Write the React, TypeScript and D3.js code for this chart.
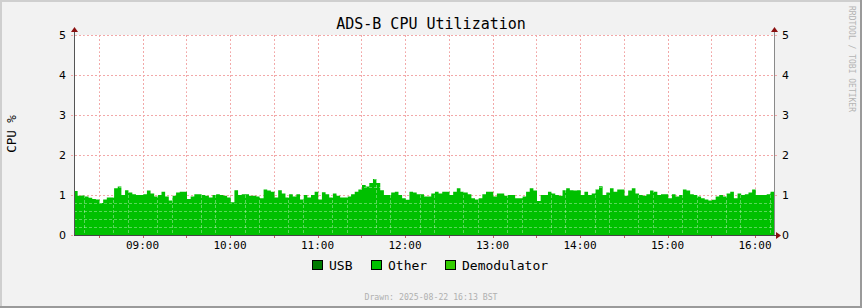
import React from "react";
import * as d3 from "d3";

const W = 862;
const H = 308;

const title = "ADS-B CPU Utilization";
const yAxisLabel = "CPU %";
const watermark = "RRDTOOL / TOBI OETIKER";
const drawnText = "Drawn: 2025-08-22 16:13 BST";

const legendNames = ["USB", "Other", "Demodulator"];
const legendColors = ["#007a00", "#00c000", "#33cc00"];

const yTicks = [0, 1, 2, 3, 4, 5];

// window start/end and sample step (minutes)
const startTime = new Date(2025, 7, 22, 8, 13);
const endTime = new Date(2025, 7, 22, 16, 13);
const stepMinutes = 2.5;

// "Other" CPU % samples, one per step
const otherValues = [
  1.10, 0.98, 0.99, 0.96, 0.93, 0.90, 0.89, 0.80, 0.89, 0.94, 0.94, 1.17,
  1.21, 1.00, 1.12, 1.06, 1.02, 1.00, 1.00, 1.02, 1.11, 1.04, 0.96, 1.00,
  1.08, 0.96, 0.86, 0.98, 1.06, 1.08, 1.08, 0.90, 0.96, 1.02, 1.02, 1.00,
  0.98, 0.94, 1.00, 1.02, 1.00, 0.98, 0.94, 0.82, 1.12, 1.00, 1.02, 1.02,
  0.98, 0.98, 0.96, 0.92, 1.14, 1.11, 1.08, 0.94, 1.12, 1.04, 0.94, 1.02,
  0.96, 1.02, 0.89, 1.00, 0.94, 1.00, 1.08, 0.89, 1.07, 1.02, 0.94, 1.04,
  0.98, 0.94, 0.94, 0.96, 1.02, 1.08, 1.14, 1.25, 1.21, 1.30, 1.40, 1.30,
  1.12, 1.00, 1.00, 1.06, 1.08, 1.00, 0.92, 0.88, 1.08, 1.06, 1.02, 1.02,
  0.96, 0.96, 1.04, 1.08, 1.04, 1.08, 1.08, 1.00, 1.08, 1.17, 1.08, 1.06,
  1.02, 0.92, 0.89, 0.92, 1.02, 1.08, 1.08, 0.96, 1.04, 1.04, 0.98, 1.00,
  1.00, 0.92, 0.92, 0.96, 1.08, 1.17, 1.11, 0.85, 1.00, 1.00, 1.08, 1.04,
  1.00, 0.98, 1.12, 1.17, 1.12, 1.11, 1.12, 1.00, 1.08, 1.00, 1.04, 1.14,
  1.22, 1.00, 1.06, 1.17, 1.08, 1.14, 1.14, 0.98, 1.11, 1.17, 1.04, 1.00,
  0.98, 1.02, 1.11, 1.08, 1.00, 1.02, 1.02, 0.92, 1.02, 0.96, 1.00, 1.14,
  1.11, 1.02, 1.00, 0.96, 0.92, 0.89, 0.86, 0.88, 0.96, 1.00, 0.96, 1.04,
  1.08, 0.92, 1.04, 1.00, 1.02, 1.06, 1.14, 1.00, 1.00, 1.00, 1.02, 1.08,
];

const PL = 74;
const PR = 774;
const PT = 35;
const PB = 235;

const mono = "'DejaVu Sans Mono', monospace";
const sans = "'DejaVu Sans', sans-serif";

export default function App() {
  const x = d3.scaleTime().domain([startTime, endTime]).range([PL, PR]);
  const y = d3.scaleLinear().domain([0, 5]).range([PB, PT]);

  const pts = otherValues.map((v, i) => ({
    t: new Date(startTime.getTime() + i * stepMinutes * 60000),
    v,
  }));
  pts.push({ t: endTime, v: otherValues[otherValues.length - 1] });

  const area = d3
    .area<{ t: Date; v: number }>()
    .x((d) => x(d.t))
    .y0(y(0))
    .y1((d) => y(d.v))
    .curve(d3.curveStepAfter);

  const majorX = x.ticks(d3.timeMinute.every(30)!);
  const minorX = x
    .ticks(d3.timeMinute.every(10)!)
    .filter((d) => d.getMinutes() % 30 !== 0);
  const labelX = x.ticks(d3.timeHour.every(1)!);
  const minorY = d3
    .range(1, 25)
    .map((i) => i * 0.2)
    .filter((v) => Math.abs(v - Math.round(v)) > 1e-6);
  const fmt = d3.timeFormat("%H:%M");

  const legendX = [312, 371, 445];

  return (
    <svg width={W} height={H} style={{ display: "block" }}>
      <style>{`body{margin:0}`}</style>
      <rect x={0} y={0} width={W} height={H} fill="#f2f2f2" />
      {/* frame */}
      <rect x={0} y={0} width={W} height={2} fill="#cfcfcf" />
      <rect x={0} y={0} width={2} height={H} fill="#cfcfcf" />
      <rect x={0} y={H - 2} width={W} height={2} fill="#9a9a9a" />
      <rect x={W - 2} y={0} width={2} height={H} fill="#9a9a9a" />

      <rect x={PL} y={PT} width={PR - PL} height={PB - PT} fill="#ffffff" />

      {/* major grid */}
      <g stroke="#f2a8a8" strokeWidth={1} strokeDasharray="2,2">
        {majorX.map((d, i) => (
          <line key={"mx" + i} x1={Math.round(x(d)) + 0.5} x2={Math.round(x(d)) + 0.5} y1={PT} y2={PB + 3} />
        ))}
        {yTicks.map((v) => (
          <line key={"my" + v} x1={PL - 3} x2={PR + 3} y1={Math.round(y(v)) + 0.5} y2={Math.round(y(v)) + 0.5} />
        ))}
      </g>

      <path d={area(pts) || ""} fill="#00c000" />

      {/* minor grid (translucent white, only visible over the fill) */}
      <g stroke="#ffffff" strokeOpacity={0.35} strokeWidth={1} strokeDasharray="3,2">
        {minorX.map((d, i) => (
          <line key={"nx" + i} x1={Math.round(x(d)) + 0.5} x2={Math.round(x(d)) + 0.5} y1={PT} y2={PB} />
        ))}
        {minorY.map((v, i) => (
          <line key={"ny" + i} x1={PL} x2={PR} y1={Math.round(y(v)) + 0.5} y2={Math.round(y(v)) + 0.5} />
        ))}
      </g>

      {/* ticks */}
      <g stroke="#c06060" strokeWidth={1}>
        {majorX.map((d, i) => (
          <line key={"tx" + i} x1={Math.round(x(d)) + 0.5} x2={Math.round(x(d)) + 0.5} y1={PB} y2={PB + 3} />
        ))}
      </g>

      {/* axes */}
      <line x1={PL + 0.5} x2={PL + 0.5} y1={PB} y2={PT - 4} stroke="#555555" strokeWidth={1} />
      <line x1={PR + 0.5} x2={PR + 0.5} y1={PB} y2={PT - 4} stroke="#8a8a8a" strokeWidth={1} />
      <line x1={PL} x2={PR + 4} y1={PB + 0.5} y2={PB + 0.5} stroke="#444444" strokeWidth={1} />
      <path d={`M${PL - 3},${PT - 3} L${PL + 4},${PT - 3} L${PL + 0.5},${PT - 8} Z`} fill="#8b1010" />
      <path d={`M${PR - 3},${PT - 3} L${PR + 4},${PT - 3} L${PR + 0.5},${PT - 8} Z`} fill="#8b1010" />
      <path d={`M${PR + 2},${PB - 3} L${PR + 2},${PB + 4} L${PR + 7},${PB + 0.5} Z`} fill="#8b1010" />

      {/* y labels */}
      <g fontFamily={sans} fontSize={11} fill="#000">
        {yTicks.map((v) => (
          <text key={"yl" + v} x={66} y={y(v) + 4} textAnchor="end">
            {v}
          </text>
        ))}
        {yTicks.map((v) => (
          <text key={"yr" + v} x={782} y={y(v) + 4} textAnchor="start">
            {v}
          </text>
        ))}
      </g>

      {/* x labels */}
      <g fontFamily={mono} fontSize={11} fill="#000">
        {labelX.map((d, i) => (
          <text key={"xl" + i} x={x(d)} y={249} textAnchor="middle">
            {fmt(d)}
          </text>
        ))}
      </g>

      <text x={431} y={29} textAnchor="middle" fontFamily={mono} fontSize={15} fill="#000">
        {title}
      </text>

      <text
        transform={`translate(16,134) rotate(-90)`}
        textAnchor="middle"
        fontFamily={mono}
        fontSize={12.5}
        fill="#000"
      >
        {yAxisLabel}
      </text>

      <text
        transform={`translate(849,59) rotate(90)`}
        textAnchor="middle"
        fontFamily={mono}
        fontSize={8}
        fill="#b4b4b4"
      >
        {watermark}
      </text>

      {/* legend */}
      {legendNames.map((n, i) => (
        <g key={n}>
          <rect x={legendX[i] + 0.5} y={260.5} width={10} height={9} fill={legendColors[i]} stroke="#000" strokeWidth={1} />
          <text x={legendX[i] + 17} y={270} fontFamily={mono} fontSize={13} fill="#000">
            {n}
          </text>
        </g>
      ))}

      <text x={431} y={300} textAnchor="middle" fontFamily={mono} fontSize={8.2} fill="#b0b0b0">
        {drawnText}
      </text>
    </svg>
  );
}
